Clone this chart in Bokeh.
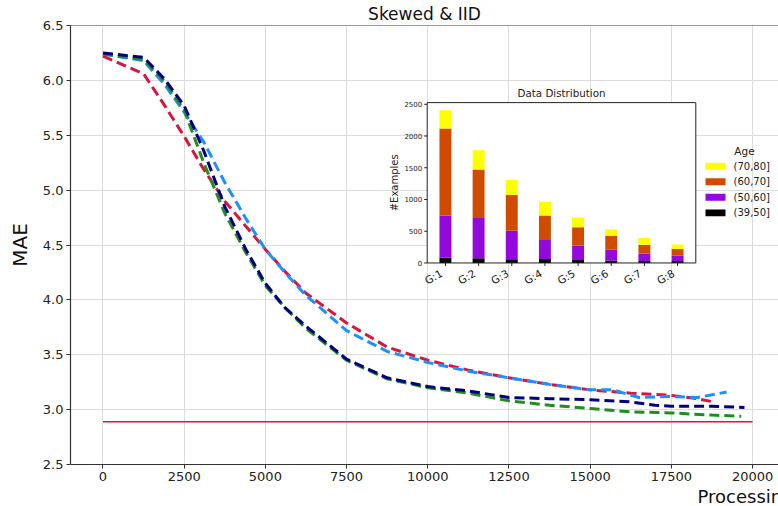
import math
from bokeh.plotting import figure
from bokeh.models import Range1d, FixedTicker, PrintfTickFormatter, Span, Title, ColumnDataSource
from bokeh.core.properties import value
from bokeh.embed import file_html
from bokeh.resources import INLINE

FONT = "DejaVu Sans"

# ---------------- main chart data ----------------
red_steps = [0, 1250, 1900, 2500, 3100, 3750, 4400, 5000, 5600, 6250, 7500, 8750,
             10000, 11250, 12500, 13750, 15000, 16250, 17500, 18300, 18800]
red_mae = [6.22, 6.06, 5.77, 5.49, 5.19, 4.90, 4.67, 4.46, 4.26, 4.06, 3.79, 3.57,
           3.45, 3.36, 3.29, 3.23, 3.18, 3.15, 3.13, 3.10, 3.07]

blue_steps = [0, 1250, 1900, 2500, 3100, 3750, 4400, 5000, 5600, 6250, 7500, 8750,
              10000, 11250, 12500, 13750, 15000, 15700, 16500, 17400, 18300, 19200]
blue_mae = [6.24, 6.18, 5.96, 5.71, 5.44, 5.07, 4.74, 4.46, 4.25, 4.04, 3.72, 3.53,
            3.43, 3.35, 3.29, 3.23, 3.18, 3.18, 3.11, 3.12, 3.11, 3.16]

green_steps = [0, 1250, 1900, 2500, 3100, 3750, 4400, 5000, 5600, 6250, 7500, 8750,
               10000, 11250, 12500, 13750, 15000, 16250, 17500, 18750, 19650]
green_mae = [6.24, 6.19, 5.99, 5.73, 5.25, 4.79, 4.43, 4.13, 3.93, 3.74, 3.45, 3.28,
             3.20, 3.15, 3.08, 3.04, 3.01, 2.98, 2.97, 2.95, 2.94]

navy_steps = [0, 1250, 1900, 2500, 3100, 3750, 4400, 5000, 5600, 6250, 7500, 8750,
              10000, 11250, 12500, 13750, 15000, 16250, 17000, 17500, 18750, 19750]
navy_mae = [6.25, 6.21, 6.01, 5.77, 5.36, 4.85, 4.46, 4.15, 3.93, 3.76, 3.46, 3.29,
            3.21, 3.17, 3.11, 3.10, 3.09, 3.07, 3.04, 3.03, 3.03, 3.02]

baseline_steps = [0, 20000]
baseline_mae = 2.89

x_ticks = [0, 2500, 5000, 7500, 10000, 12500, 15000, 17500, 20000]
y_ticks = [2.5, 3.0, 3.5, 4.0, 4.5, 5.0, 5.5, 6.0, 6.5]

# ---------------- inset data ----------------
groups = ["G:1", "G:2", "G:3", "G:4", "G:5", "G:6", "G:7", "G:8"]
age_bins = ["(39,50]", "(50,60]", "(60,70]", "(70,80]"]
count_39_50 = [84, 73, 57, 63, 47, 37, 31, 31]
count_50_60 = [662, 637, 449, 297, 230, 177, 120, 84]
count_60_70 = [1373, 762, 564, 386, 287, 209, 136, 104]
count_70_80 = [287, 303, 240, 220, 151, 109, 110, 73]
inset_y_ticks = [0, 500, 1000, 1500, 2000, 2500]
age_colors = ["#000000", "#9309DD", "#D04B00", "#FFFF00"]

# ---------------- layout constants (pixels) ----------------
W, H = 778, 506
FL, FR, FT, FB = 70, 778, 25, 465
XMIN, XMAX = -1000, 20798
YMIN, YMAX = 2.5, 6.5
AX = "#333333"

p = figure(width=W, height=H, x_range=Range1d(XMIN, XMAX), y_range=Range1d(YMIN, YMAX),
           output_backend="svg", toolbar_location=None,
           min_border_left=FL, min_border_right=0, min_border_top=FT, min_border_bottom=H - FB)
p.background_fill_color = "white"
p.border_fill_color = "white"
p.outline_line_color = None

p.title.text = "Skewed & IID"
p.title.align = "center"
p.title.text_font = FONT
p.title.text_font_size = "17px"
p.title.text_font_style = "normal"
p.title.text_color = "#111111"
p.title.standoff = 3
p.title.text_line_height = 1.0

xlab = Title(text="Processing Rounds", align="left", offset=697 - FL, text_font=FONT,
             text_font_size="18px", text_font_style="normal", text_color="#111111",
             standoff=0, text_line_height=1.0)
p.add_layout(xlab, "below")

for ax in (p.xaxis[0], p.yaxis[0]):
    ax.axis_line_color = AX
    ax.axis_line_width = 1.2
    ax.major_tick_line_color = AX
    ax.major_tick_out = 4
    ax.major_tick_in = 0
    ax.minor_tick_line_color = None
    ax.major_label_text_font = FONT
    ax.major_label_text_font_size = "13px"
    ax.major_label_text_color = "#222222"
    ax.major_label_standoff = 3
p.xaxis.ticker = FixedTicker(ticks=x_ticks)
p.yaxis.ticker = FixedTicker(ticks=y_ticks)
p.yaxis.formatter = PrintfTickFormatter(format="%.1f")
p.yaxis.axis_label = "MAE"
p.yaxis.axis_label_text_font = FONT
p.yaxis.axis_label_text_font_size = "20px"
p.yaxis.axis_label_text_font_style = "normal"
p.yaxis.axis_label_text_color = "#111111"
p.yaxis.axis_label_standoff = 8
p.xgrid.ticker = FixedTicker(ticks=x_ticks)
p.ygrid.ticker = FixedTicker(ticks=y_ticks)
p.grid.grid_line_color = "#dcdcdc"
p.grid.grid_line_width = 1

p.add_layout(Span(location=YMAX, dimension="width", line_color=AX, line_width=1.2))

# main curves
p.line(baseline_steps, [baseline_mae] * len(baseline_steps), line_color="crimson", line_width=1.6)
dash = "10 5"
p.line(red_steps, red_mae, line_color="crimson", line_width=3, line_dash=dash)
p.line(blue_steps, blue_mae, line_color="dodgerblue", line_width=3, line_dash=dash)
p.line(green_steps, green_mae, line_color="forestgreen", line_width=3, line_dash=dash)
p.line(navy_steps, navy_mae, line_color="navy", line_width=3, line_dash=dash)

# ---------------- inset (drawn through extra ranges) ----------------
IL, IR, IT, IB = 426.7, 695.3, 102.3, 263.0
n = len(groups)
totals = [a + b + c + d for a, b, c, d in zip(count_39_50, count_50_60, count_60_70, count_70_80)]
ix0, ix1 = -0.55, n - 1 + 0.55
iy0, iy1 = 0, max(totals) * 1.05
kx = (ix1 - ix0) / (IR - IL)
ky = (iy1 - iy0) / (IB - IT)
p.extra_x_ranges = {"ix": Range1d(ix0 - (IL - FL) * kx, ix1 + (FR - IR) * kx)}
p.extra_y_ranges = {"iy": Range1d(iy0 - (FB - IB) * ky, iy1 + (IT - FT) * ky)}
R = dict(x_range_name="ix", y_range_name="iy")

def ipx(px):
    return ix0 + (px - IL) * kx

def ipy(py):
    return iy0 + (IB - py) * ky

p.quad(left=[ix0], right=[ix1], bottom=[iy0], top=[iy1], fill_color="white",
       line_color=None, **R)

src = ColumnDataSource(dict(x=list(range(n)), a=count_39_50, b=count_50_60,
                            c=count_60_70, d=count_70_80))
p.vbar_stack(["a", "b", "c", "d"], x="x", width=0.36, color=age_colors, line_color=None,
             source=src, **R)

p.quad(left=[ix0], right=[ix1], bottom=[iy0], top=[iy1], fill_color=None,
       line_color="#222222", line_width=1, **R)

# inset y ticks
p.segment(x0=[ix0] * len(inset_y_ticks), x1=[ix0 - 3 * kx] * len(inset_y_ticks),
          y0=inset_y_ticks, y1=inset_y_ticks, line_color="#222222", line_width=1, **R)
p.text(x=[ix0 - 5 * kx] * len(inset_y_ticks), y=inset_y_ticks,
       text=[str(t) for t in inset_y_ticks], text_align="right", text_baseline="middle",
       text_font=value(FONT), text_font_size="7px", text_color="#222222", **R)
# inset x ticks
xs = list(range(n))
p.segment(x0=xs, x1=xs, y0=[iy0] * n, y1=[iy0 - 3 * ky] * n, line_color="#222222",
          line_width=1, **R)
p.text(x=[i - 7 * kx for i in xs], y=[iy0 - 4 * ky] * n, text=groups, angle=math.radians(30),
       text_align="right", text_baseline="top", text_font=value(FONT),
       text_font_size="10.5px", text_color="#222222", **R)
# inset title and y label
p.text(x=[(ix0 + ix1) / 2], y=[ipy(93)], text=["Data Distribution"], text_align="center",
       text_baseline="middle", text_font=value(FONT), text_font_size="10.3px",
       text_color="#222222", **R)
p.text(x=[ipx(394)], y=[(iy0 + iy1) / 2], text=["#Examples"], angle=math.pi / 2,
       text_align="center", text_baseline="middle", text_font=value(FONT),
       text_font_size="10px", text_color="#222222", **R)

# inset legend (outside the inset frame, no border)
leg_rows = [166.0, 181.6, 197.2, 212.8]
leg_labels = list(reversed(age_bins))
leg_colors = list(reversed(age_colors))
p.quad(left=[ipx(705)] * 4, right=[ipx(725)] * 4,
       bottom=[ipy(r + 3.5) for r in leg_rows], top=[ipy(r - 3.5) for r in leg_rows],
       fill_color=leg_colors, line_color=None, **R)
p.text(x=[ipx(733)] * 4, y=[ipy(r) for r in leg_rows], text=leg_labels, text_align="left",
       text_baseline="middle", text_font=value(FONT), text_font_size="10px",
       text_color="#222222", **R)
p.text(x=[ipx(744)], y=[ipy(151)], text=["Age"], text_align="center", text_baseline="middle",
       text_font=value(FONT), text_font_size="10.5px", text_color="#222222", **R)

open("out.html", "w").write(file_html(p, INLINE))
